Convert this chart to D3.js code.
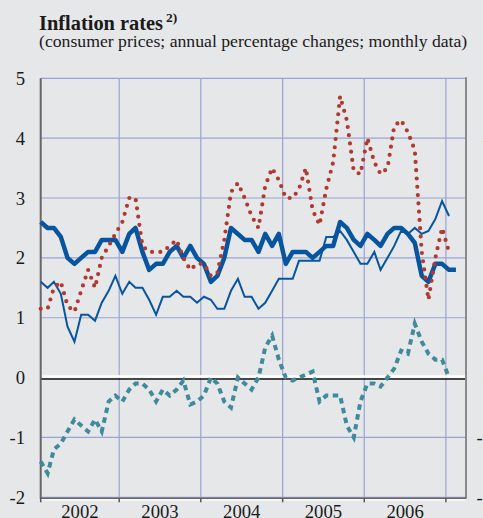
<!DOCTYPE html>
<html>
<head>
<meta charset="utf-8">
<script src="https://cdn.jsdelivr.net/npm/d3@7"></script>
<style>
  html, body { margin: 0; padding: 0; background: #e6e7e9; overflow: hidden; }
  svg { display: block; }
  text { font-family: "Liberation Serif", "Times New Roman", "DejaVu Serif", serif; fill: #1a1a1a; }
</style>
</head>
<body>
<script>
// ---- data (monthly, starting January 2002) ----
const startYear = 2002;
const yearLabels = ["2002", "2003", "2004", "2005", "2006"];
const yTicks = [5, 4, 3, 2, 1, 0, -1, -2];

// Euro area HICP (thick blue), Jan 2002 - Feb 2007
const euroArea = [
  2.6, 2.5, 2.5, 2.35, 2.0, 1.9, 2.0, 2.1, 2.1, 2.3, 2.3, 2.3,
  2.1, 2.4, 2.5, 2.1, 1.8, 1.9, 1.9, 2.1, 2.2, 2.0, 2.2, 2.0,
  1.9, 1.6, 1.7, 2.0, 2.5, 2.4, 2.3, 2.3, 2.1, 2.4, 2.2, 2.4,
  1.9, 2.1, 2.1, 2.1, 2.0, 2.1, 2.2, 2.2, 2.6, 2.5, 2.3, 2.2,
  2.4, 2.3, 2.2, 2.4, 2.5, 2.5, 2.4, 2.25, 1.7, 1.6, 1.9, 1.9,
  1.8, 1.8
];
// United Kingdom (thin blue), Jan 2002 - Jan 2007
const unitedKingdom = [
  1.6, 1.5, 1.6, 1.4, 0.85, 0.6, 1.05, 1.05, 0.95, 1.25, 1.45, 1.7,
  1.4, 1.6, 1.5, 1.5, 1.3, 1.05, 1.35, 1.35, 1.45, 1.35, 1.35, 1.25,
  1.35, 1.3, 1.15, 1.15, 1.45, 1.65, 1.35, 1.35, 1.15, 1.25, 1.45, 1.65,
  1.65, 1.65, 1.95, 1.95, 1.95, 1.95, 2.35, 2.35, 2.45, 2.3, 2.1, 1.9,
  1.9, 2.1, 1.8, 2.0, 2.2, 2.45, 2.4, 2.5, 2.4, 2.45, 2.65, 2.95,
  2.7
];
// United States (red dotted), Jan 2002 - Jan 2007
const unitedStates = [
  1.15, 1.15, 1.5, 1.6, 1.2, 1.1, 1.45, 1.8, 1.5, 2.0, 2.2, 2.4,
  2.6, 3.0, 3.0, 2.2, 2.1, 2.1, 2.1, 2.2, 2.3, 2.0, 1.8, 1.9,
  1.9, 1.7, 1.75, 2.3, 3.1, 3.25, 3.0, 2.7, 2.5, 3.2, 3.5, 3.3,
  3.0, 3.0, 3.15, 3.5, 2.8, 2.55, 3.15, 3.6, 4.7, 4.3, 3.45, 3.4,
  4.0, 3.6, 3.4, 3.5, 4.2, 4.3, 4.1, 3.8, 2.1, 1.3, 2.0, 2.5,
  2.1
];
// Japan (teal dashed), Jan 2002 - Jan 2007
const japan = [
  -1.4, -1.6, -1.2, -1.1, -0.9, -0.7, -0.8, -0.9, -0.7, -0.9, -0.4, -0.3,
  -0.4, -0.2, -0.1, -0.1, -0.2, -0.4, -0.2, -0.3, -0.2, -0.05, -0.45, -0.4,
  -0.3, 0.0, -0.1, -0.4, -0.5, 0.0, -0.1, -0.2, 0.0, 0.5, 0.7, 0.3,
  0.0, -0.05, 0.0, 0.05, 0.1, -0.4, -0.3, -0.3, -0.3, -0.8, -1.0, -0.4,
  -0.1, -0.1, -0.15, 0.0, 0.15, 0.45, 0.4, 0.9, 0.6, 0.4, 0.3, 0.3,
  0.0
];

// ---- layout ----
const W = 483, H = 518;
const plot = { left: 40.7, right: 466, top: 78.3, bottom: 497.3 };

const svg = d3.select("body").append("svg").attr("width", W).attr("height", H);
svg.append("rect").attr("width", W).attr("height", H).attr("fill", "#e6e7e9");

const monthDate = i => new Date(startYear, i, 15);
const x = d3.scaleTime()
  .domain([new Date(2002, 0, 15), new Date(2007, 3, 1)])
  .range([plot.left, plot.right]);
const y = d3.scaleLinear().domain([-2, 5]).range([plot.bottom, plot.top]);

// title
const title = svg.append("text").attr("x", 39).attr("y", 30)
  .style("font-size", "20.4px").style("font-weight", "bold");
title.append("tspan").text("Inflation rates");
title.append("tspan").attr("dx", 3).attr("dy", -8).style("font-size", "13.5px").text("2)");
svg.append("text").attr("x", 39).attr("y", 47)
  .style("font-size", "17.7px")
  .text("(consumer prices; annual percentage changes; monthly data)");

// horizontal grid
const gridColor = "#9aa4d4";
svg.append("g").selectAll("line").data(yTicks.filter(v => v !== 0)).join("line")
  .attr("x1", plot.left).attr("x2", plot.right)
  .attr("y1", d => y(d)).attr("y2", d => y(d))
  .attr("stroke", gridColor).attr("stroke-width", 1.2);

// vertical year grid
const yearBounds = d3.range(2003, 2008).map(yr => new Date(yr, 0, 1));
svg.append("g").selectAll("line").data(yearBounds).join("line")
  .attr("x1", d => x(d)).attr("x2", d => x(d))
  .attr("y1", plot.top).attr("y2", plot.bottom)
  .attr("stroke", gridColor).attr("stroke-width", 1.2);

// zero line (white highlight + black)
svg.append("line").attr("x1", plot.left).attr("x2", plot.right)
  .attr("y1", y(0) - 1).attr("y2", y(0) - 1)
  .attr("stroke", "#ffffff").attr("stroke-width", 2.5);
svg.append("line").attr("x1", plot.left).attr("x2", plot.right)
  .attr("y1", y(0) + 1.4).attr("y2", y(0) + 1.4)
  .attr("stroke", "#111111").attr("stroke-width", 1.3);

// left and right borders
svg.append("line").attr("x1", plot.left).attr("x2", plot.left)
  .attr("y1", plot.top).attr("y2", plot.bottom + 1.5)
  .attr("stroke", "#666666").attr("stroke-width", 2);
svg.append("line").attr("x1", plot.right).attr("x2", plot.right)
  .attr("y1", plot.top - 1).attr("y2", plot.bottom + 1.5)
  .attr("stroke", "#8a8a8a").attr("stroke-width", 2);

// bottom axis
svg.append("line").attr("x1", plot.left).attr("x2", plot.right)
  .attr("y1", plot.bottom + 1).attr("y2", plot.bottom + 1)
  .attr("stroke", "#666666").attr("stroke-width", 1.5);
svg.append("line").attr("x1", plot.left).attr("x2", plot.right)
  .attr("y1", plot.bottom + 2.6).attr("y2", plot.bottom + 2.6)
  .attr("stroke", "#ffffff").attr("stroke-width", 1.2);
const tickDates = [new Date(2002, 0, 15)].concat(yearBounds);
svg.append("g").selectAll("line").data(tickDates).join("line")
  .attr("x1", d => x(d)).attr("x2", d => x(d))
  .attr("y1", plot.bottom + 1).attr("y2", plot.bottom + 5)
  .attr("stroke", "#555555").attr("stroke-width", 1.5);

// year labels
svg.append("g").selectAll("text").data(yearLabels).join("text")
  .attr("x", (d, i) => {
    const a = Math.max(x(new Date(+d, 0, 1)), plot.left);
    const b = x(new Date(+d + 1, 0, 1));
    return (a + b) / 2;
  })
  .attr("y", 517.5)
  .attr("text-anchor", "middle")
  .style("font-size", "18.7px")
  .text(d => d);

// y labels left
svg.append("g").selectAll("text").data(yTicks).join("text")
  .attr("x", 25).attr("y", d => y(d) + 6.5)
  .attr("text-anchor", "end")
  .style("font-size", "18.7px")
  .text(d => d);
// y labels right (cut by the image edge)
svg.append("g").selectAll("text").data(yTicks).join("text")
  .attr("x", 492).attr("y", d => y(d) + 6.5)
  .attr("text-anchor", "end")
  .style("font-size", "18.7px")
  .text(d => d);

// series
const line = d3.line().x((d, i) => x(monthDate(i))).y(d => y(d)).curve(d3.curveLinear);

svg.append("path").datum(japan).attr("d", line)
  .attr("fill", "none").attr("stroke", "#3f8b9b").attr("stroke-width", 4)
  .attr("stroke-dasharray", "5.5 4.5");

svg.append("path").datum(euroArea).attr("d", line)
  .attr("fill", "none").attr("stroke", "#07559f").attr("stroke-width", 4.5)
  .attr("stroke-linejoin", "round");

svg.append("path").datum(unitedKingdom).attr("d", line)
  .attr("fill", "none").attr("stroke", "#07559f").attr("stroke-width", 2)
  .attr("stroke-linejoin", "miter");

svg.append("path").datum(unitedStates).attr("d", line)
  .attr("fill", "none").attr("stroke", "#b03a31").attr("stroke-width", 4.2)
  .attr("stroke-linecap", "round").attr("stroke-dasharray", "0 8.3");
</script>
</body>
</html>
